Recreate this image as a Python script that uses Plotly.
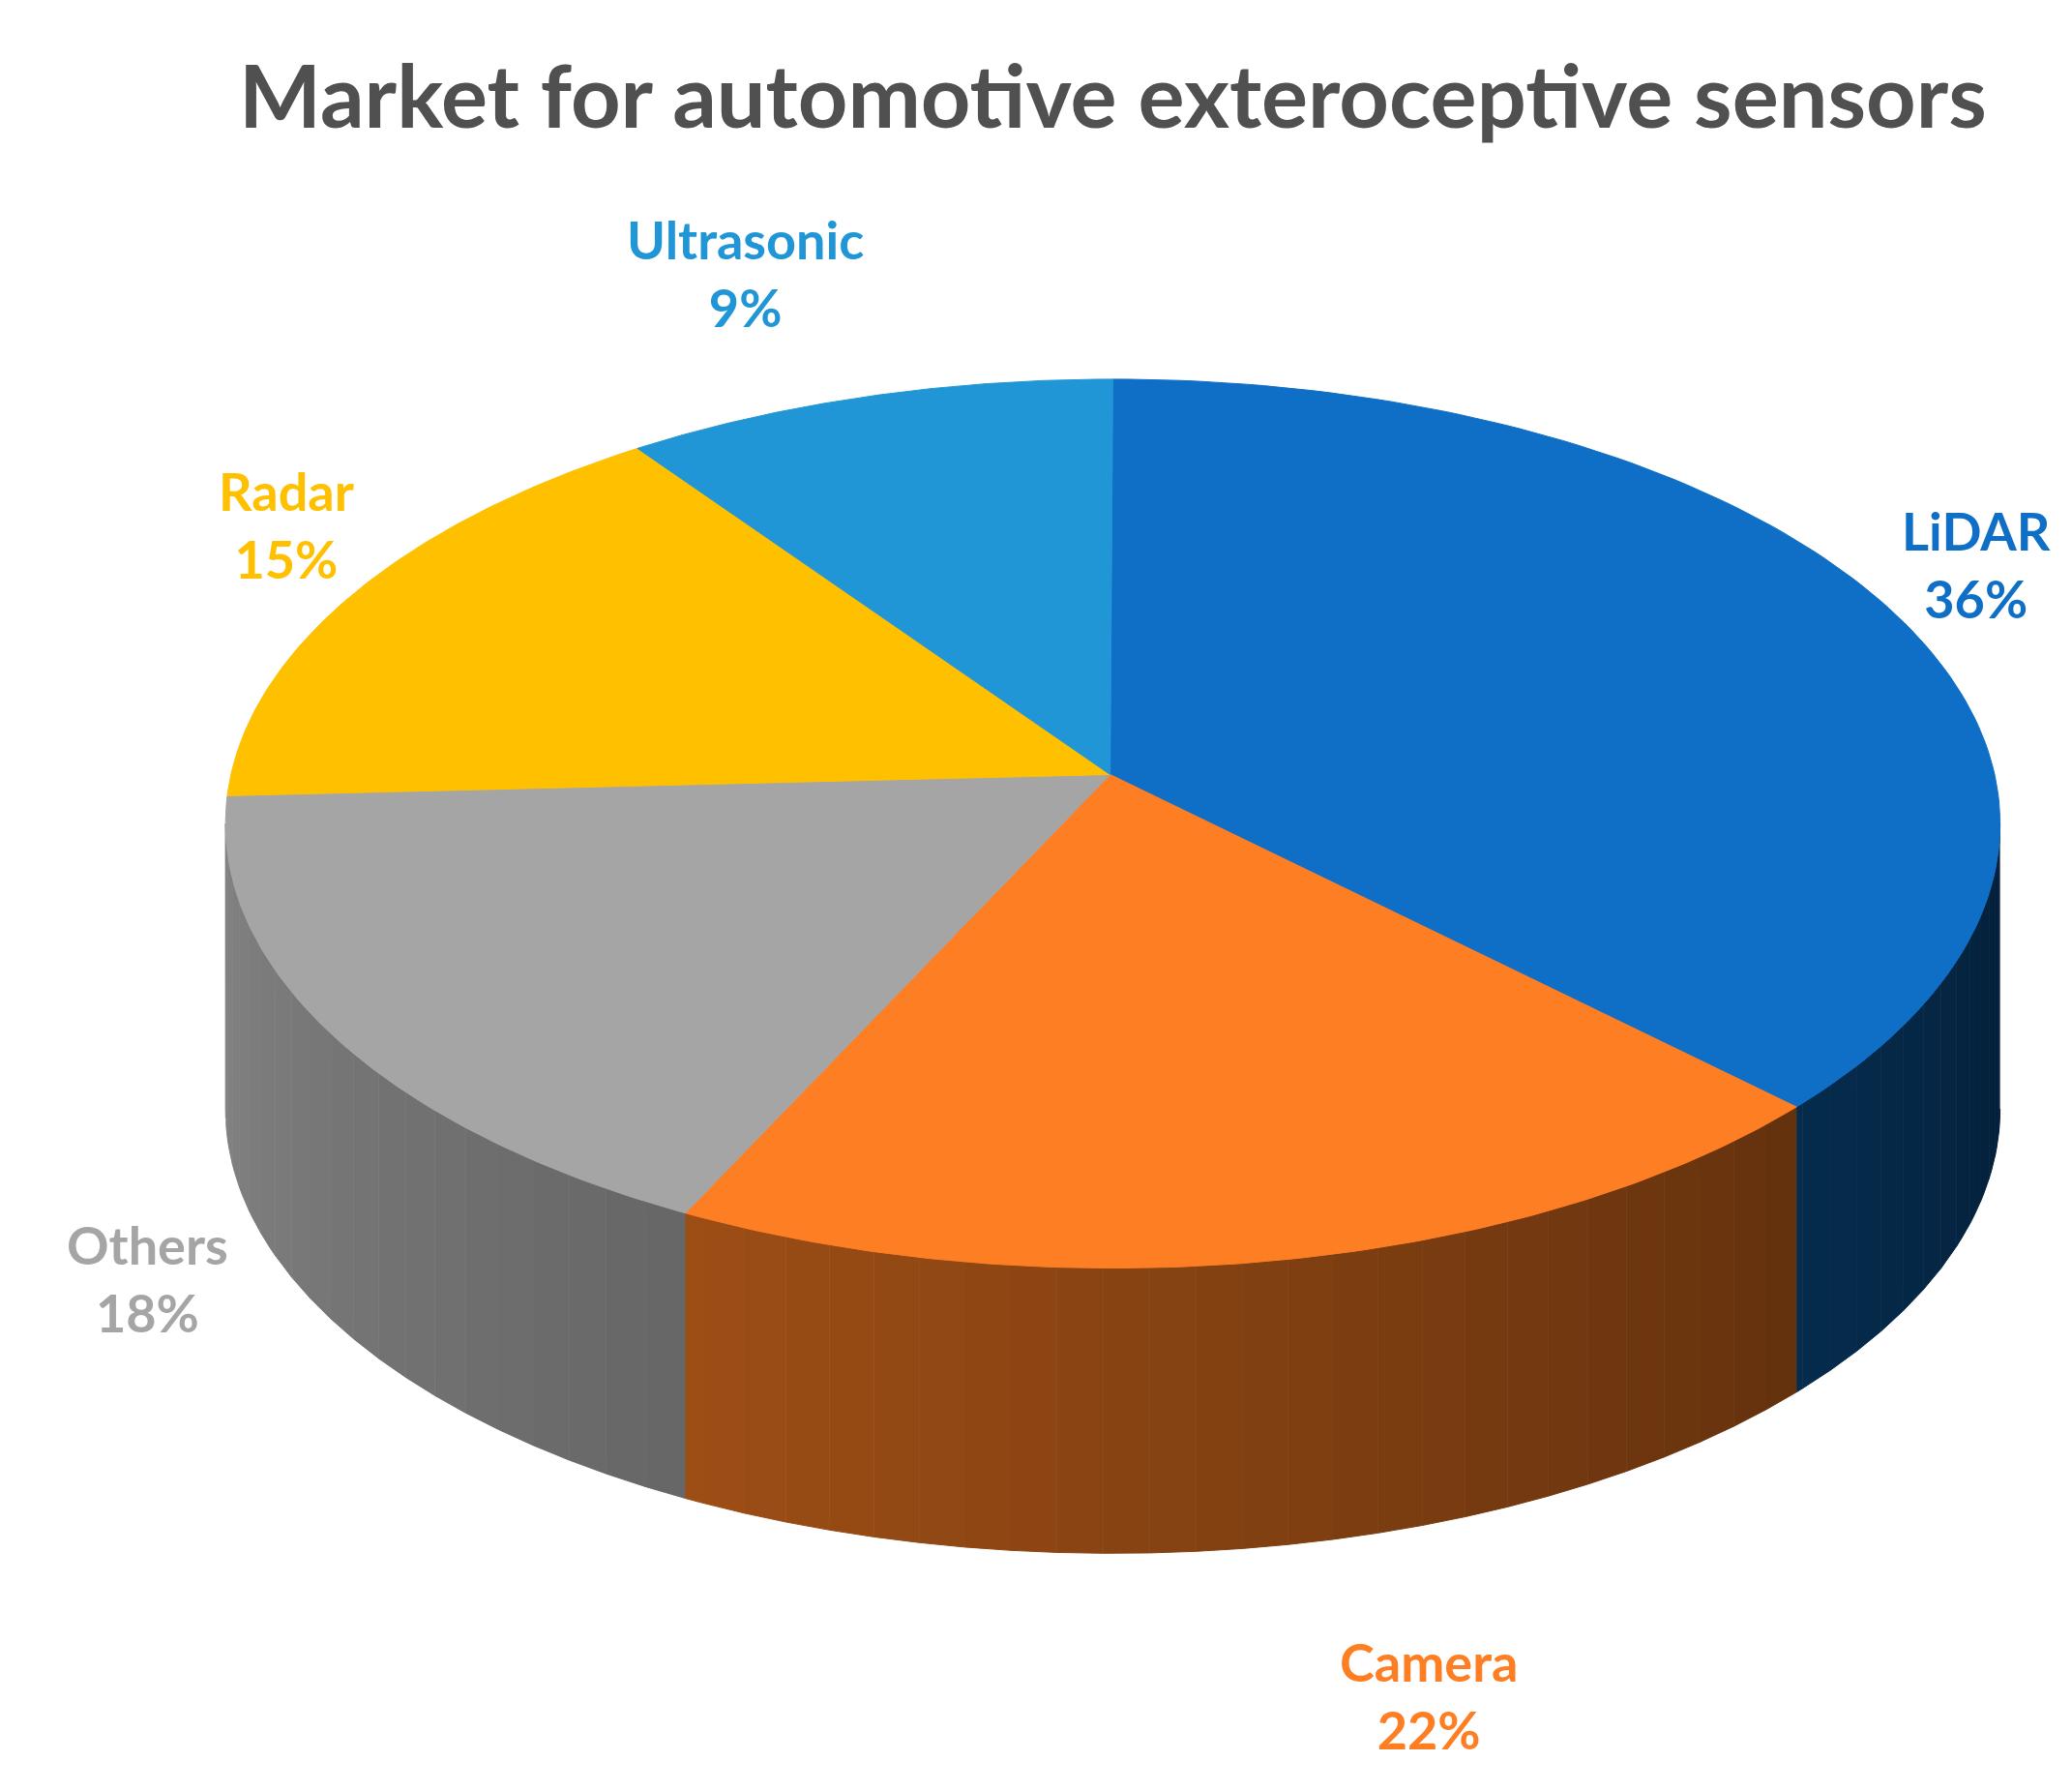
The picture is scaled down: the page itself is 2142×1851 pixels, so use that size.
import numpy as np
import plotly.graph_objects as go

labels = ["LiDAR", "Camera", "Others", "Radar", "Ultrasonic"]
values = [36, 22, 18, 15, 9]
colors = ["#0F6FC6", "#FD7E23", "#A5A5A5", "#FFC000", "#2196D6"]
label_pos = [(1482, 420), (1070, 1272), (105, 958), (210, 390), (555, 200)]

W, H = 1560, 1350
cx, cy, rx, ry, depth = 832, 615, 668, 335, 215
vx, vy = 830, 578

def hex2rgb(h):
    return np.array([int(h[i:i+2], 16) for i in (1, 3, 5)], float)

def shade(h, f):
    c = hex2rgb(h) * f
    c = np.clip(c, 0, 255).astype(int)
    return f"rgb({c[0]},{c[1]},{c[2]})"

fig = go.Figure()
tot = sum(values)
starts = np.cumsum([0] + values[:-1]) / tot * 360
ends = np.cumsum(values) / tot * 360

def ex(t): return cx + rx * np.sin(np.radians(t))
def ey(t): return cy - ry * np.cos(np.radians(t))

# side walls in strips for shading (left lighter, right darker)
for s, e, col in zip(starts, ends, colors):
    a, b = max(s, 90), min(e, 270)
    if a >= b:
        continue
    edges = np.arange(a, b, 3.0).tolist() + [b]
    for t0, t1 in zip(edges[:-1], edges[1:]):
        ts = np.linspace(t0, t1, 4)
        xs = list(ex(ts)) + list(ex(ts[::-1]))
        ys = list(ey(ts)) + list(ey(ts[::-1]) + depth)
        tm = (t0 + t1) / 2
        f = 0.28 + 0.52 * ((tm - 90) / 180)
        c = shade(col, f)
        fig.add_trace(go.Scatter(x=xs, y=ys, fill="toself", mode="lines",
                                 line=dict(color=c, width=1), fillcolor=c,
                                 hoverinfo="skip", showlegend=False))

# top sectors
for s, e, col, lab, v in zip(starts, ends, colors, labels, values):
    ts = np.linspace(s, e, 120)
    xs = [vx] + list(ex(ts)) + [vx]
    ys = [vy] + list(ey(ts)) + [vy]
    fig.add_trace(go.Scatter(x=xs, y=ys, fill="toself", mode="lines",
                             line=dict(color=col, width=1), fillcolor=col,
                             name=lab, hoverinfo="name", showlegend=False))

for lab, v, col, (px, py) in zip(labels, values, colors, label_pos):
    fig.add_annotation(x=px, y=py, text=f"<b>{lab}<br>{v}%</b>", showarrow=False,
                       font=dict(family="Lato", size=54, color=col), align="center")

fig.add_annotation(x=832, y=65, text="<b>Market for automotive exteroceptive sensors</b>",
                   showarrow=False, font=dict(family="Lato", size=90, color="#505050"))

fig.update_xaxes(range=[0, W], visible=False)
fig.update_yaxes(range=[H, 0], visible=False)
fig.update_layout(width=2142, height=1851, margin=dict(l=0, r=0, t=0, b=0),
                  plot_bgcolor="white", paper_bgcolor="white")
fig.write_html("out.html")
